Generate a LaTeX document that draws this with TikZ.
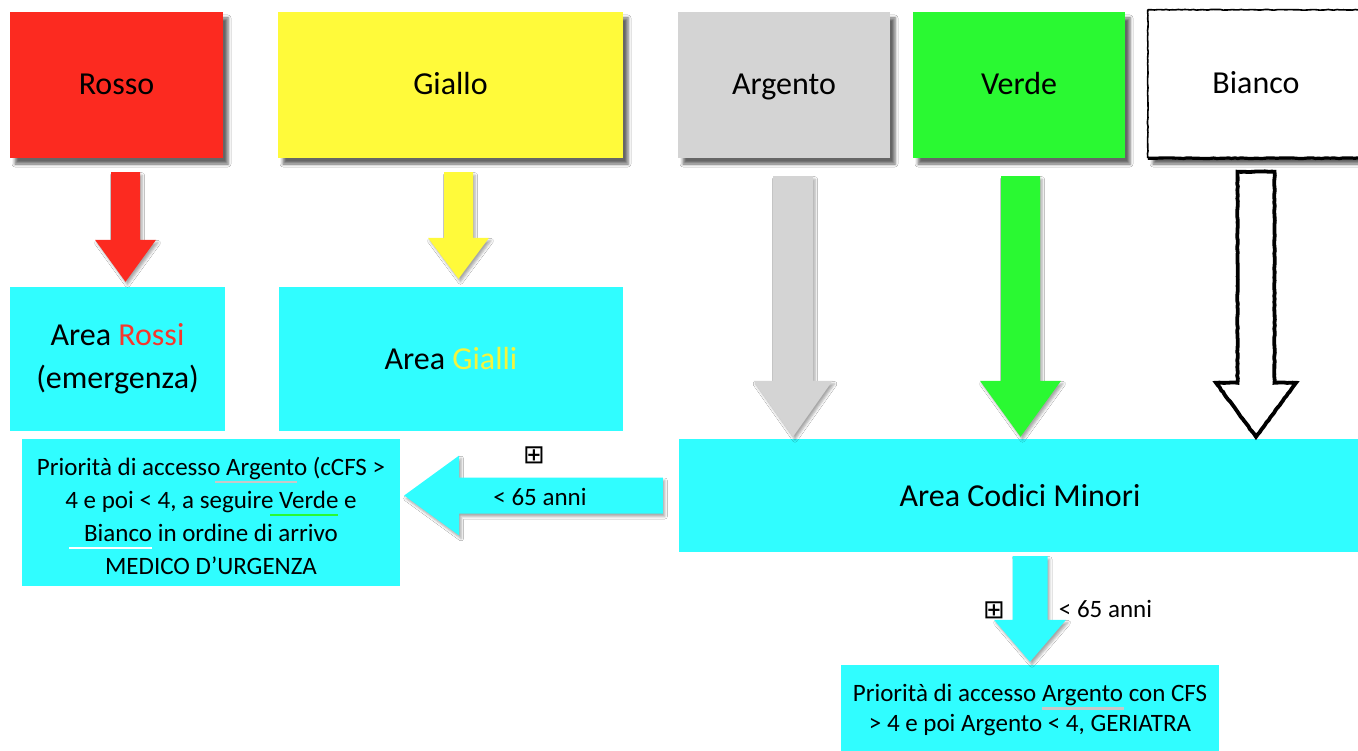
\documentclass[tikz,border=0pt]{standalone}
\usepackage{fontspec}
\setmainfont{Carlito}
\newfontfamily\symfont{DejaVu Sans}
\usetikzlibrary{calc,shadows.blur,decorations.pathmorphing}

\definecolor{codered}{RGB}{252,42,32}
\definecolor{codeyellow}{RGB}{255,250,58}
\definecolor{codesilver}{RGB}{212,212,212}
\definecolor{codegreen}{RGB}{42,249,50}
\definecolor{areacyan}{RGB}{48,253,255}
\definecolor{redtext}{RGB}{245,55,45}
\definecolor{yellowtext}{RGB}{246,244,60}
\definecolor{silverline}{RGB}{200,200,200}

% coloured underline: colour, overhang on the left, trim on the right, word
\newsavebox\ulbox
\newcommand\colul[4]{%
  \sbox\ulbox{#4}%
  \rlap{\hspace{-#2}\textcolor{#1}{\rule[-8pt]{\dimexpr\wd\ulbox+#2-#3\relax}{2.6pt}}}%
  \usebox\ulbox}

% block arrow pointing down: style, top centre, tip, shaft half width, head half width, head length
\newcommand\blockdown[6]{%
  \path[#1] ($(#2)+(-#4,0)$) -- ($(#3)+(-#4,-#6)$) -- ($(#3)+(-#5,-#6)$) -- (#3)
    -- ($(#3)+(#5,-#6)$) -- ($(#3)+(#4,-#6)$) -- ($(#2)+(#4,0)$) -- cycle;}
% block arrow pointing left: style, tail centre, tip, shaft half width, head half width, head length
\newcommand\blockleft[6]{%
  \path[#1] ($(#2)+(0,-#4)$) -- ($(#3)+(#6,-#4)$) -- ($(#3)+(#6,-#5)$) -- (#3)
    -- ($(#3)+(#6,#5)$) -- ($(#3)+(#6,#4)$) -- ($(#2)+(0,#4)$) -- cycle;}

\tikzset{
  codebox/.style={minimum height=146pt, inner sep=0pt,
    text height=24pt, text depth=4pt,
    font=\fontsize{32}{38}\selectfont,
    blur shadow={shadow xshift=5pt, shadow yshift=-6pt, shadow blur radius=3pt, shadow opacity=60}},
  areabox/.style={fill=areacyan, inner sep=0pt, align=center},
  arrowshadow/.style={blur shadow={shadow xshift=2pt, shadow yshift=-3pt, shadow blur radius=2.5pt, shadow opacity=35}},
  sketch/.style={draw=black, line join=round,
    decoration={random steps, segment length=3pt, amplitude=0.35pt}, decorate},
  note/.style={font=\fontsize{25}{30}\selectfont, inner sep=0pt},
  plusbox/.style={font=\symfont\fontsize{26}{26}\selectfont, inner sep=0pt},
}

\begin{document}
\begin{tikzpicture}[x=1pt, y=-1pt]
\useasboundingbox (0,0) rectangle (1358,751);
\clip (0,0) rectangle (1358,751);
\fill[white] (0,0) rectangle (1358,751);

% triage codes
\node[codebox, fill=codered, minimum width=213pt] (rosso) at (116.5,85) {Rosso};
\node[codebox, fill=codeyellow, minimum width=345pt] (giallo) at (450.5,85) {Giallo};
\node[codebox, fill=codesilver, minimum width=212pt] (argento) at (784,85) {Argento};
\node[codebox, fill=codegreen, minimum width=212pt] (verde) at (1019,85) {Verde};
\node[codebox, fill=white, minimum width=216pt, minimum height=148pt] (bianco) at (1256,84) {Bianco};
\draw[sketch, line width=1.6pt] (bianco.north east) -- (bianco.north west) -- (bianco.south west);
\draw[sketch, line width=3.2pt] (bianco.south west) -- (bianco.south east);

% treatment areas
\node[areabox, minimum width=215pt, minimum height=144pt,
  font=\fontsize{32}{43}\selectfont] (arearossi) at (117.5,359)
  {Area \textcolor{redtext}{Rossi}\\(emergenza)};
\node[areabox, minimum width=344pt, minimum height=144pt,
  font=\fontsize{32}{43}\selectfont] (areagialli) at (451,359)
  {Area \textcolor{yellowtext}{Gialli}};
\node[areabox, minimum width=682pt, minimum height=113pt,
  font=\fontsize{32}{43}\selectfont] (codici) at (1020,495.5)
  {Area Codici Minori};
\node[areabox, minimum width=378pt, minimum height=147pt,
  font=\fontsize{25}{33}\selectfont] (urgenza) at (211,512.5)
  {\rule{0pt}{25pt}Priorità di accesso \colul{silverline}{11pt}{10pt}{Argento} (cCFS >\\
   4 e poi < 4, a seguire \colul{codegreen}{9pt}{0pt}{Verde} e\\
   \colul{white}{15pt}{0pt}{Bianco} in ordine di arrivo\\
   MEDICO D’URGENZA};
\node[areabox, minimum width=378pt, minimum height=90pt,
  font=\fontsize{25}{30}\selectfont] (geriatra) at (1030,710)
  {Priorità di accesso \colul{silverline}{0pt}{-1pt}{Argento} con CFS\\
   > 4 e poi Argento < 4, GERIATRA};

% arrows from the codes to the areas
\coordinate (ra) at ([xshift=9pt, yshift=-14pt]rosso.south);
\coordinate (rb) at ($(ra |- arearossi.north)+(0,-5)$);
\blockdown{fill=codered, arrowshadow}{ra}{rb}{14.5}{30.5}{42}

\coordinate (ya) at ([xshift=8pt, yshift=-14pt]giallo.south);
\coordinate (yb) at ($(ya |- areagialli.north)+(0,-8)$);
\blockdown{fill=codeyellow, arrowshadow}{ya}{yb}{14.5}{30.5}{41}

\coordinate (ga) at ([xshift=9pt, yshift=-18pt]argento.south);
\coordinate (gb) at ($(ga |- codici.north)+(0,-2)$);
\blockdown{fill=codesilver, arrowshadow}{ga}{gb}{20}{39.5}{56}

\coordinate (va) at ([xshift=1.5pt, yshift=-18pt]verde.south);
\coordinate (vb) at ($(va |- codici.north)+(0,-2)$);
\blockdown{fill=codegreen, arrowshadow}{va}{vb}{19.5}{40.5}{56}

\coordinate (ba) at ([yshift=-13.5pt]bianco.south);
\coordinate (bb) at ($(ba |- codici.north)+(0,-2)$);
\blockdown{fill=white, sketch, line width=3.8pt, line join=miter}{ba}{bb}{18.5}{40}{54}

% arrows out of the minor codes area
\coordinate (la) at ([xshift=-16pt]codici.west);
\coordinate (lb) at ($(la -| urgenza.east)+(4,0)$);
\blockleft{fill=areacyan, arrowshadow}{la}{lb}{18}{40}{55}

\coordinate (da) at ($(codici.south -| geriatra.north)+(0,4)$);
\coordinate (db) at ($(geriatra.north)+(0,-3)$);
\blockdown{fill=areacyan, arrowshadow}{da}{db}{17.5}{36}{42}

% labels on the arrows
\node[note] (eta1) at (540,497) {< 65 anni};
\node[plusbox] (piu1) at (534,455.5) {⊞};
\node[note] (eta2) at (1105.5,609) {< 65 anni};
\node[plusbox] (piu2) at (994,610) {⊞};
\end{tikzpicture}
\end{document}
